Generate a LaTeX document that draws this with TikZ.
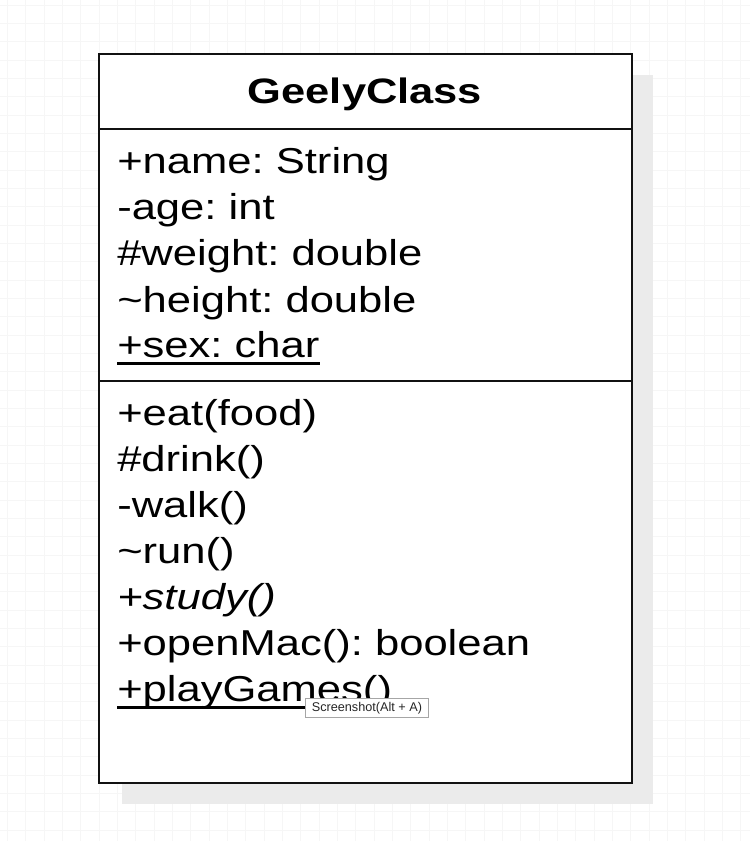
\documentclass[tikz,border=0pt]{standalone}
\usepackage{fontspec}
\newfontfamily\umlfont[FakeStretch=1.21]{Liberation Sans}
\newfontfamily\titlefont[FakeStretch=1.23]{Liberation Sans}
\newfontfamily\tipfont{Liberation Sans}
\definecolor{gridc}{HTML}{F6F6F6}
\definecolor{shadowc}{HTML}{EBEBEB}
\definecolor{boxline}{HTML}{111111}
\frenchspacing
\begin{document}
\begin{tikzpicture}[x=0.75pt,y=-0.75pt,
  member/.style={anchor=base west,inner sep=0pt,font=\umlfont\fontsize{27pt}{30pt}\selectfont,text=black},
  divider/.style={line width=1.6pt,draw=boxline},
  uline/.style={line width=1.8pt,draw=black}]
\useasboundingbox (0,0) rectangle (750,841);
\fill[white] (0,0) rectangle (750,841);
% faint grid
\foreach \i in {0,...,41} {
  \draw[gridc,line width=0.6pt] ({7.5+\i*18.33},0) -- ({7.5+\i*18.33},841);
}
\foreach \j in {0,...,46} {
  \draw[gridc,line width=0.6pt] (0,{5.2+\j*18.33}) -- (750,{5.2+\j*18.33});
}
% shadow
\fill[shadowc] (122,75) rectangle (653,804);
% class box
\node[draw=boxline,line width=1.7pt,fill=white,minimum width=533*0.75pt,minimum height=729*0.75pt,inner sep=0pt,anchor=north west] (box) at (98,53) {};
\coordinate (d1l) at (98,129);
\coordinate (d1r) at (631,129);
\coordinate (d2l) at (98,381);
\coordinate (d2r) at (631,381);
\draw[divider] (d1l) -- (d1r);
\draw[divider] (d2l) -- (d2r);
% title
\node[anchor=base,inner sep=0pt,font=\titlefont\bfseries\fontsize{26.5pt}{30pt}\selectfont] (title) at (365,104) {GeelyClass};
% attributes
\node[member] (a1) at (117,174) {+name: String};
\node[member] (a2) at (117,220) {-age: int};
\node[member] (a3) at (117,266) {\#weight: double};
\node[member] (a4) at (117,312) {\textasciitilde height: double};
\node[member] (a5) at (117,357) {+sex: char};
\draw[uline] (a5.base west) ++(0,6.5) coordinate (u5a) -- (u5a -| a5.east);
% methods
\node[member] (m1) at (117,425) {+eat(food)};
\node[member] (m2) at (117,471) {\#drink()};
\node[member] (m3) at (117,517) {-walk()};
\node[member] (m4) at (117,563) {\textasciitilde run()};
\node[member] (m5) at (117,609) {\itshape +study()};
\node[member] (m6) at (117,655) {+openMac(): boolean};
\node[member] (m7) at (117,701) {+playGames()};
\draw[uline] (m7.base west) ++(0,6.5) coordinate (u7a) -- (u7a -| m7.east);
% tooltip
\node[draw=gray!70,fill=white,line width=0.6pt,anchor=north west,minimum width=123*0.75pt,minimum height=19*0.75pt,inner sep=0pt] (tip) at (305,698) {};
\node[font=\tipfont\fontsize{9.5pt}{11pt}\selectfont,text=black!85,inner sep=0pt] (tiptext) at (tip.center) {Screenshot(Alt + A)};
\end{tikzpicture}
\end{document}
